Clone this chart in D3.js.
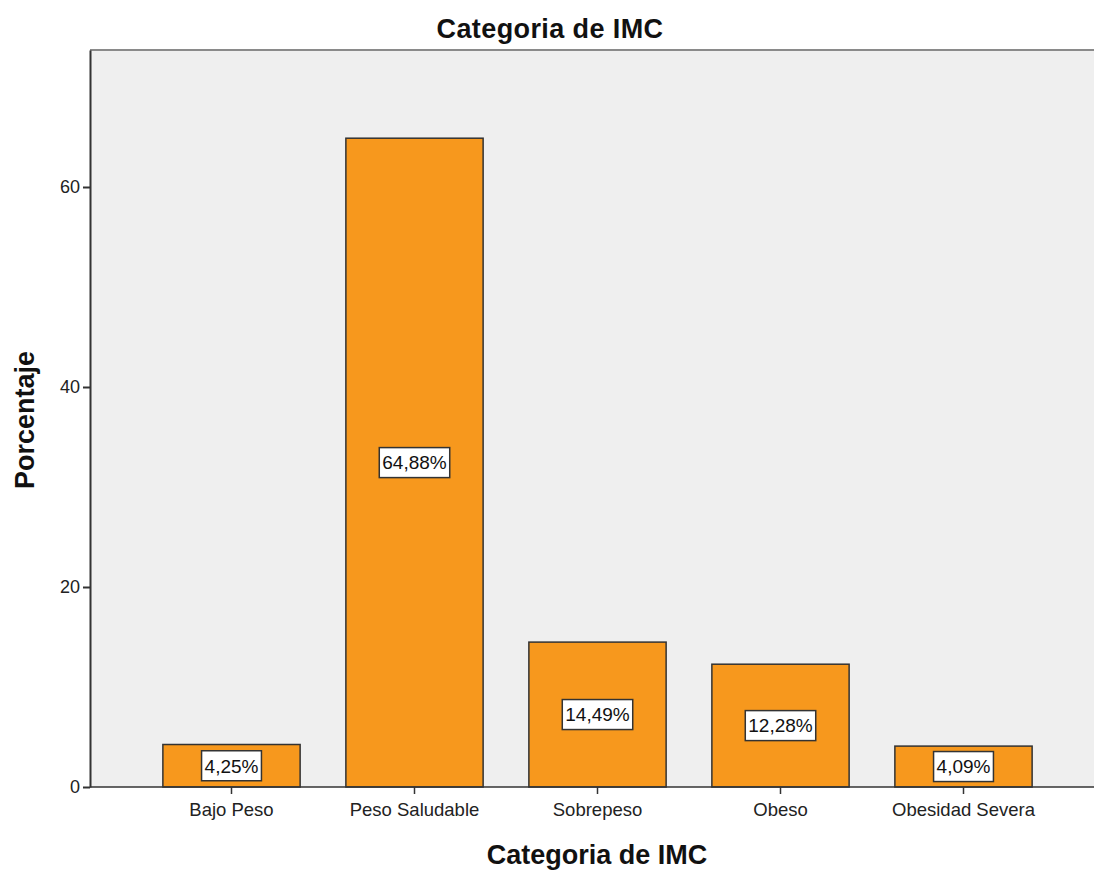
<!DOCTYPE html>
<html><head><meta charset="utf-8">
<script src="https://cdn.jsdelivr.net/npm/d3@7"></script>
<style>body{margin:0;background:#fff}svg{display:block;font-family:"Liberation Sans",Arial,sans-serif}</style>
</head><body><svg id="c" width="1094" height="870"></svg>
<script>
const categories = ["Bajo Peso","Peso Saludable","Sobrepeso","Obeso","Obesidad Severa"];
const values = [4.25,64.88,14.49,12.28,4.09];
const labels = ["4,25%","64,88%","14,49%","12,28%","4,09%"];
const yTicks = [0,20,40,60];

const svg = d3.select("#c");
const L=90, R=1094, T=50, B=787;
const x = d3.scaleBand().domain(categories).range([140,1055]).paddingInner(0.25).paddingOuter(0.125);
const y = d3.scaleLinear().domain([0,73.7]).range([B,T]);

svg.append("rect").attr("x",L).attr("y",T).attr("width",R-L).attr("height",B-T).attr("fill","#efefef");
svg.append("line").attr("x1",L).attr("x2",R).attr("y1",T).attr("y2",T).attr("stroke","#8a8a8a").attr("stroke-width",2);

const bw = x.bandwidth();
svg.append("g").selectAll("rect").data(values).join("rect")
  .attr("x",(d,i)=>x(categories[i])).attr("width",bw)
  .attr("y",d=>y(d)).attr("height",d=>B-y(d))
  .attr("fill","#f7981d").attr("stroke","#333").attr("stroke-width",1.5);

// axes
const ya = svg.append("g").attr("transform",`translate(${L},0)`).call(d3.axisLeft(y).tickValues(yTicks).tickSize(7).tickPadding(3).tickSizeOuter(0));
ya.select(".domain").attr("stroke","#333").attr("stroke-width",2);
ya.selectAll(".tick line").attr("stroke","#333").attr("stroke-width",2);
ya.selectAll("text").attr("font-size",18).attr("fill","#222").attr("font-family","Liberation Sans, Arial, sans-serif");

const xa = svg.append("g").attr("transform",`translate(0,${B})`).call(d3.axisBottom(x).tickSize(7).tickPadding(9).tickSizeOuter(0));
xa.select(".domain").attr("d",`M${L},0H${R}`).attr("stroke","#333").attr("stroke-width",1.5);
xa.selectAll(".tick line").attr("stroke","#333").attr("stroke-width",1.5);
xa.selectAll("text").attr("font-size",18.5).attr("fill","#222").attr("font-family","Liberation Sans, Arial, sans-serif");

// value labels
const lg = svg.append("g").selectAll("g").data(values).join("g")
  .attr("transform",(d,i)=>`translate(${x(categories[i])+bw/2},${(y(d)+B)/2})`);
lg.each(function(d,i){
  const g=d3.select(this);
  const t=g.append("text").text(labels[i]).attr("text-anchor","middle").attr("dy","0.36em")
    .attr("font-size",19).attr("fill","#111");
  const w=t.node().getComputedTextLength()+6;
  g.insert("rect","text").attr("x",-w/2).attr("y",-15).attr("width",w).attr("height",30)
    .attr("fill","#fff").attr("stroke","#333").attr("stroke-width",1.5);
});

svg.append("text").attr("x",550).attr("y",38).attr("text-anchor","middle").attr("font-size",27).attr("letter-spacing",0.4).attr("font-weight","bold").attr("fill","#111").text("Categoria de IMC");
svg.append("text").attr("x",597).attr("y",864).attr("text-anchor","middle").attr("font-size",27).attr("font-weight","bold").attr("fill","#111").text("Categoria de IMC");
svg.append("text").attr("transform","translate(34,420) rotate(-90)").attr("text-anchor","middle").attr("font-size",27).attr("font-weight","bold").attr("fill","#111").text("Porcentaje");
</script></body></html>
